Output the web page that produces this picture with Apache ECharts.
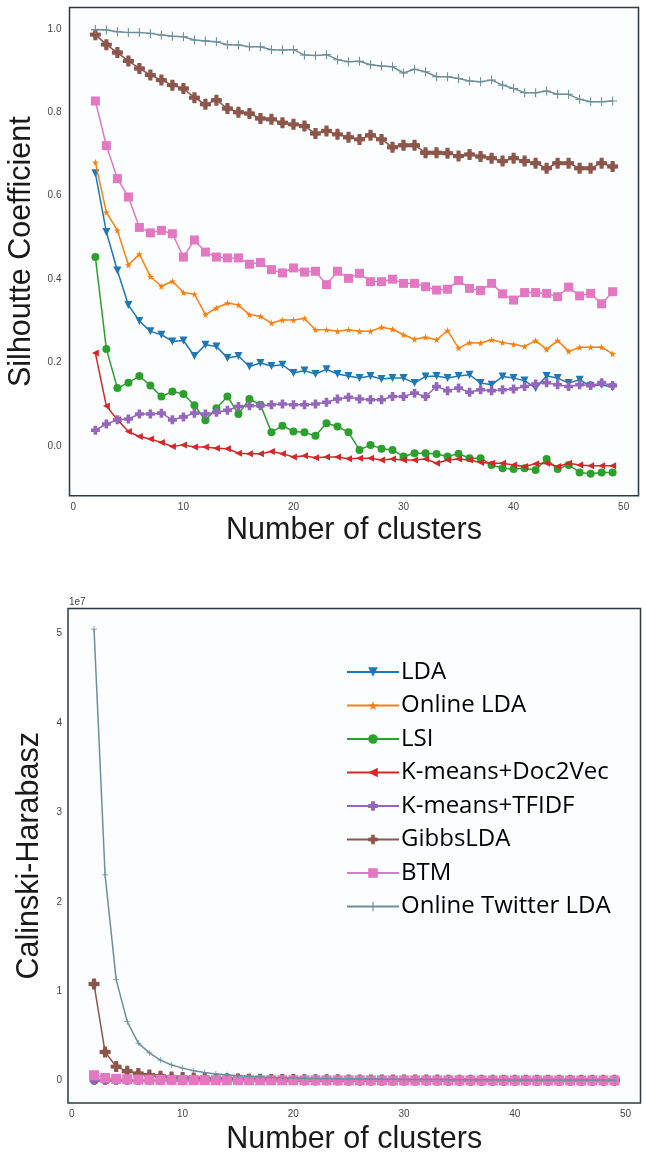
<!DOCTYPE html>
<html><head><meta charset="utf-8">
<script src="https://cdn.jsdelivr.net/npm/echarts@6/dist/echarts.min.js"></script>
<style>html,body{margin:0;padding:0;background:#fff}#c{width:645px;height:1159px}</style>
</head><body><div id="c"></div>
<script>
const clusters = [2,3,4,5,6,7,8,9,10,11,12,13,14,15,16,17,18,19,20,21,22,23,24,25,26,27,28,29,30,31,32,33,34,35,36,37,38,39,40,41,42,43,44,45,46,47,48,49];
const seriesNames = ['LDA','Online LDA','LSI','K-means+Doc2Vec','K-means+TFIDF','GibbsLDA','BTM','Online Twitter LDA'];
const xTicks = [0,10,20,30,40,50];
const silTicks = [0,0.2,0.4,0.6,0.8,1.0];
const chTicks = [0,1e7,2e7,3e7,4e7,5e7];

// Silhouette coefficient (top chart)
const silLDA = [0.654,0.513,0.421,0.338,0.300,0.275,0.267,0.251,0.253,0.216,0.243,0.239,0.211,0.216,0.191,0.199,0.192,0.195,0.175,0.181,0.173,0.184,0.173,0.168,0.163,0.168,0.161,0.163,0.163,0.151,0.167,0.168,0.163,0.168,0.171,0.151,0.147,0.167,0.163,0.157,0.139,0.168,0.163,0.151,0.159,0.144,0.147,0.141];
const silOnlineLDA = [0.680,0.560,0.517,0.434,0.460,0.406,0.383,0.395,0.368,0.364,0.315,0.331,0.343,0.338,0.315,0.311,0.295,0.302,0.302,0.306,0.279,0.279,0.275,0.279,0.275,0.275,0.285,0.280,0.267,0.256,0.261,0.255,0.277,0.235,0.248,0.247,0.255,0.248,0.244,0.239,0.253,0.232,0.253,0.227,0.237,0.237,0.237,0.221];
const silLSI = [0.453,0.233,0.139,0.152,0.168,0.145,0.119,0.131,0.125,0.098,0.062,0.091,0.119,0.077,0.113,0.099,0.033,0.049,0.035,0.033,0.025,0.055,0.047,0.033,-0.009,0.003,-0.006,-0.009,-0.025,-0.017,-0.017,-0.019,-0.025,-0.018,-0.029,-0.029,-0.045,-0.053,-0.055,-0.053,-0.057,-0.031,-0.055,-0.045,-0.063,-0.066,-0.063,-0.063];
const silDoc2Vec = [0.223,0.096,0.063,0.035,0.023,0.017,0.009,-0.001,0.003,-0.002,-0.002,-0.005,-0.006,-0.017,-0.018,-0.018,-0.013,-0.018,-0.026,-0.023,-0.028,-0.026,-0.026,-0.030,-0.029,-0.029,-0.033,-0.031,-0.033,-0.033,-0.031,-0.041,-0.033,-0.031,-0.033,-0.039,-0.041,-0.041,-0.045,-0.049,-0.042,-0.041,-0.049,-0.041,-0.045,-0.047,-0.047,-0.047];
const silTFIDF = [0.038,0.053,0.063,0.065,0.077,0.077,0.079,0.063,0.070,0.079,0.077,0.081,0.086,0.095,0.097,0.097,0.099,0.101,0.099,0.099,0.101,0.105,0.113,0.117,0.113,0.111,0.111,0.119,0.119,0.127,0.119,0.143,0.133,0.139,0.129,0.135,0.133,0.135,0.137,0.143,0.149,0.152,0.147,0.143,0.147,0.145,0.152,0.145];
const silGibbs = [0.986,0.962,0.943,0.923,0.905,0.889,0.877,0.865,0.857,0.835,0.819,0.829,0.809,0.800,0.797,0.785,0.783,0.775,0.771,0.767,0.749,0.755,0.747,0.740,0.735,0.745,0.735,0.716,0.721,0.721,0.703,0.703,0.702,0.695,0.699,0.694,0.690,0.683,0.690,0.683,0.678,0.666,0.678,0.678,0.666,0.666,0.678,0.670];
const silBTM = [0.827,0.720,0.641,0.597,0.524,0.511,0.517,0.509,0.453,0.494,0.465,0.453,0.451,0.451,0.436,0.440,0.423,0.415,0.427,0.417,0.419,0.387,0.419,0.402,0.414,0.394,0.394,0.400,0.390,0.390,0.382,0.374,0.376,0.397,0.378,0.373,0.390,0.365,0.350,0.368,0.368,0.366,0.358,0.381,0.360,0.366,0.341,0.370];
const silTwitter = [0.998,0.997,0.993,0.991,0.991,0.989,0.985,0.982,0.981,0.973,0.971,0.969,0.962,0.961,0.957,0.957,0.950,0.949,0.950,0.937,0.936,0.938,0.926,0.921,0.922,0.914,0.911,0.909,0.894,0.903,0.897,0.885,0.885,0.881,0.875,0.873,0.877,0.865,0.857,0.847,0.847,0.851,0.843,0.843,0.831,0.825,0.825,0.827];

// Calinski-Harabasz (bottom chart), raw values
const chLDA = [12000,9000,7500,6500,5800,5200,4800,4400,4100,3800,3600,3400,3200,3000,2900,2800,2700,2600,2500,2400,2300,2250,2200,2150,2100,2050,2000,1950,1900,1850,1800,1750,1700,1650,1600,1560,1520,1480,1440,1400,1370,1340,1310,1280,1250,1220,1200,1180];
const chOnlineLDA = [15000,11000,9000,7800,7000,6300,5800,5300,4900,4600,4300,4100,3900,3700,3500,3400,3300,3200,3100,3000,2900,2800,2700,2650,2600,2550,2500,2450,2400,2350,2300,2250,2200,2150,2100,2050,2000,1960,1920,1880,1840,1800,1770,1740,1710,1680,1650,1620];
const chLSI = [30000,21000,16000,13000,11000,9500,8500,7600,6900,6300,5800,5400,5000,4700,4400,4200,4000,3800,3600,3450,3300,3150,3000,2900,2800,2700,2600,2500,2420,2340,2260,2200,2140,2080,2020,1960,1900,1850,1800,1750,1700,1660,1620,1580,1540,1500,1470,1440];
const chDoc2Vec = [25000,18000,14000,11500,9800,8600,7600,6800,6200,5700,5300,4900,4600,4300,4100,3900,3700,3500,3350,3200,3050,2900,2800,2700,2600,2500,2400,2320,2240,2160,2100,2040,1980,1920,1860,1800,1750,1700,1650,1600,1560,1520,1480,1440,1400,1370,1340,1310];
const chTFIDF = [8000,7000,6200,5600,5100,4700,4400,4100,3800,3600,3400,3200,3050,2900,2750,2600,2500,2400,2300,2200,2120,2040,1960,1890,1830,1770,1710,1660,1610,1560,1510,1470,1430,1390,1350,1310,1280,1250,1220,1190,1160,1130,1100,1080,1060,1040,1020,1000];
const chGibbs = [10800000,3200000,1570000,1050000,800000,620000,500000,400000,340000,290000,250000,220000,200000,180000,160000,150000,140000,130000,120000,110000,100000,96000,90000,86000,82000,78000,75000,71000,68000,65000,62000,60000,58000,56000,54000,52000,50000,48000,46000,44000,43000,42000,41000,40000,39000,38000,36000,35000];
const chBTM = [600000,300000,200000,150000,120000,100000,90000,80000,72000,66000,61000,57000,53000,50000,47000,45000,43000,41000,39000,37000,35500,34000,33000,32000,31000,30000,29000,28000,27000,26500,26000,25000,24500,24000,23500,23000,22500,22000,21500,21000,20500,20000,19800,19500,19200,19000,18800,18500];
const chTwitter = [50500000,23000000,11300000,6600000,4200000,3100000,2300000,1750000,1400000,1100000,900000,750000,650000,550000,480000,420000,370000,330000,300000,270000,250000,230000,210000,190000,180000,170000,160000,150000,140000,130000,120000,120000,110000,100000,100000,90000,90000,80000,80000,80000,70000,70000,70000,60000,60000,60000,60000,50000];

const colors = ['#1f77b4','#ff7f0e','#2ca02c','#d62728','#9467bd','#8c564b','#e377c2','#6e8e9a'];
const starPath = 'path://M50,0L61,35H98L68,57L79,91L50,70L21,91L32,57L2,35H39Z';
const plusFilled = 'path://M3,0H7V3H10V7H7V10H3V7H0V3H3Z';
const plusRound = 'path://M3.2,0H6.8L7,3L10,3.2V6.8L7,7L6.8,10H3.2L3,7L0,6.8V3.2L3,3Z';
const plusThin = 'path://M4.4,0H5.6V4.4H10V5.6H5.6V10H4.4V5.6H0V4.4H4.4Z';
const symbols = [
  {symbol:'triangle', symbolRotate:180, symbolSize:8},
  {symbol:starPath, symbolSize:7},
  {symbol:'circle', symbolSize:8},
  {symbol:'triangle', symbolRotate:90, symbolSize:7},
  {symbol:plusFilled, symbolSize:9},
  {symbol:plusRound, symbolSize:11},
  {symbol:'rect', symbolSize:9},
  {symbol:plusThin, symbolSize:9}
];
const bottomSizes = [8,7,8,7,9,11,10,6];
const silData = [silLDA,silOnlineLDA,silLSI,silDoc2Vec,silTFIDF,silGibbs,silBTM,silTwitter];
const chData = [chLDA,chOnlineLDA,chLSI,chDoc2Vec,chTFIDF,chGibbs,chBTM,chTwitter];

function mk(i, arr, gi){
  const s = Object.assign({
    type:'line', name: seriesNames[i], xAxisIndex:gi, yAxisIndex:gi,
    data: clusters.map((k,j)=>[k, arr[j]]),
    showSymbol:true, showAllSymbol:true,
    lineStyle:{color:colors[i], width:1.5},
    itemStyle:{color:colors[i], borderWidth:0},
    emphasis:{disabled:true}, z: 2+i
  }, symbols[i]);
  if (gi === 1) s.symbolSize = bottomSizes[i];
  return s;
}
const series = [];
silData.forEach((a,i)=>series.push(mk(i,a,0)));
chData.forEach((a,i)=>series.push(mk(i,a,1)));

const axisLbl = {color:'#444', fontSize:10, fontFamily:'Liberation Sans, Arial, sans-serif'};
const titleFont = {color:'#1a1a1a', fontSize:30.5, fontFamily:'Liberation Sans, Arial, sans-serif'};

const chart = echarts.init(document.getElementById('c'), null, {renderer:'canvas'});
chart.setOption({
  animation:false,
  backgroundColor:'#ffffff',
  grid:[
    {left:69.5, top:7.5, width:569, height:488.3, show:true, borderColor:'#2c3b42', borderWidth:1.5, backgroundColor:'#fcfdfe', containLabel:false, outerBoundsMode:'none'},
    {left:68, top:608.5, width:572.5, height:494.5, show:true, borderColor:'#2c3b42', borderWidth:1.5, backgroundColor:'#fcfdfe', containLabel:false, outerBoundsMode:'none'}
  ],
  xAxis:[
    {type:'value', gridIndex:0, min:-0.35, max:51.35, splitLine:{show:false}, axisLine:{show:false}, axisTick:{show:false},
     axisLabel:Object.assign({customValues:xTicks, margin:6}, axisLbl),
     name:'Number of clusters', nameLocation:'middle', nameGap:19, nameTextStyle:titleFont},
    {type:'value', gridIndex:1, min:-0.35, max:51.35, splitLine:{show:false}, axisLine:{show:false}, axisTick:{show:false},
     axisLabel:Object.assign({customValues:xTicks, margin:6}, axisLbl),
     name:'Number of clusters', nameLocation:'middle', nameGap:21, nameTextStyle:titleFont}
  ],
  yAxis:[
    {type:'value', gridIndex:0, min:-0.119, max:1.051, splitLine:{show:false}, axisLine:{show:false}, axisTick:{show:false},
     axisLabel:Object.assign({customValues:silTicks, margin:8, formatter:v=>v.toFixed(1)}, axisLbl),
     name:'Silhoutte Coefficient', nameLocation:'middle', nameGap:29.5, nameRotate:90, nameTextStyle:titleFont},
    {type:'value', gridIndex:1, min:-0.25e7, max:5.28e7, splitLine:{show:false}, axisLine:{show:false}, axisTick:{show:false},
     axisLabel:Object.assign({customValues:chTicks, margin:6, formatter:v=>String(Math.round(v/1e7))}, axisLbl),
     name:'Calinski-Harabasz', nameLocation:'middle', nameGap:19, nameRotate:90, nameTextStyle:titleFont}
  ],
  graphic:[
    {type:'text', left:69, top:597, style:{text:'1e7', fill:'#444', fontSize:10, fontFamily:'Liberation Sans, Arial, sans-serif'}}
  ],
  legend:{
    data:seriesNames, orient:'vertical', left:341, top:655, itemWidth:52, itemHeight:12, itemGap:9.5,
    textStyle:{fontSize:24, color:'#000', fontFamily:'Open Sans, Liberation Sans, sans-serif', lineHeight:24, padding:[0,0,0,-3]},
    selectedMode:false
  },
  series: series
});
</script></body></html>
